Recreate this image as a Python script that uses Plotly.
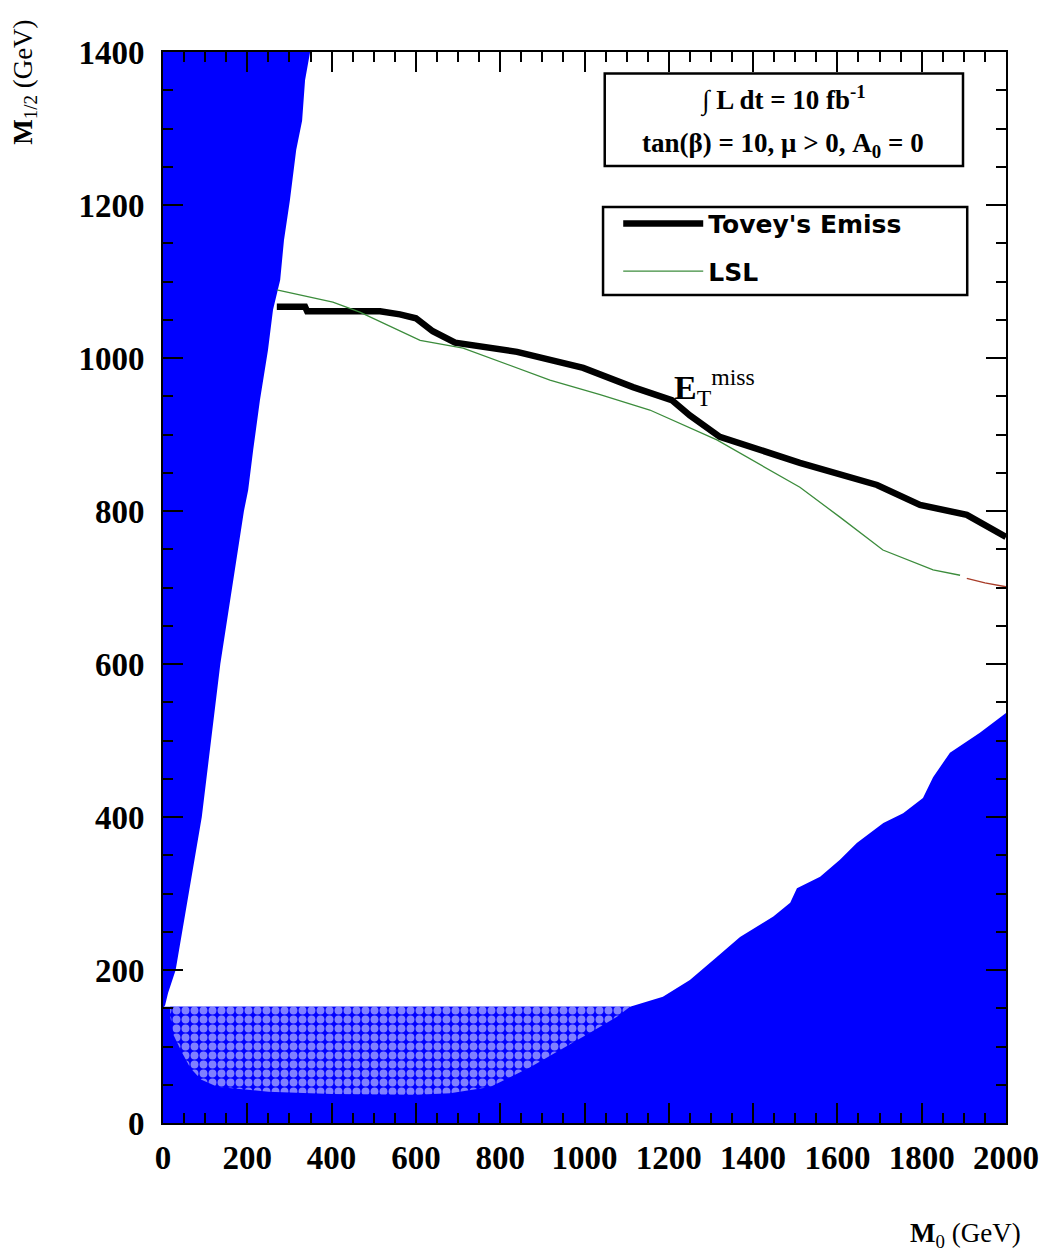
import plotly.graph_objects as go

# ---------------- data ----------------
# Left excluded wedge: right-hand boundary (M0 as a function of M1/2)
wedge_y = [150, 154, 170, 200, 400, 600, 800, 827, 880, 945, 1010, 1063, 1102, 1154, 1206, 1272, 1310, 1363, 1400]
wedge_x = [0, 5, 12, 30, 92, 136, 192, 202, 214, 230, 249, 261, 278, 287, 301, 316, 330, 337, 349]

# Bottom excluded region: upper boundary from right edge back to the hatched area
bottom_x = [2000, 1938, 1867, 1827, 1803, 1756, 1709, 1646, 1606, 1559, 1504, 1488, 1448, 1369, 1314, 1250, 1186, 1108, 0]
bottom_y = [536, 510, 484, 452, 425, 405, 392, 366, 344, 322, 307, 288, 270, 243, 217, 187, 165, 152, 152]

# Checkered (hatched) region: lower boundary
check_low_x = [17, 25, 45, 65, 90, 130, 250, 400, 600, 681, 776, 871, 942, 1013, 1077, 1108]
check_low_y = [140, 115, 92, 72, 57, 47, 41, 38, 37, 39, 47, 73, 95, 118, 139, 152]
check_top_y = 152

# Tovey's Emiss reach curve
tovey_x = [270, 337, 342, 515, 562, 600, 640, 693, 840, 918, 997, 1115, 1207, 1250, 1321, 1511, 1694, 1796, 1907, 2000]
tovey_y = [1067, 1067, 1061, 1061, 1057, 1052, 1035, 1020, 1008, 997, 987, 962, 945, 925, 897, 863, 834, 808, 795, 766]

# LSL reach curve (green part, then short red-brown tail)
lsl_x = [270, 403, 467, 610, 712, 918, 1037, 1155, 1314, 1511, 1606, 1708, 1827, 1891]
lsl_y = [1089, 1073, 1060, 1023, 1013, 971, 952, 932, 893, 831, 792, 749, 723, 716]
lsl_tail_x = [1907, 1950, 2000]
lsl_tail_y = [712, 706, 701]

x_ticks = [0, 200, 400, 600, 800, 1000, 1200, 1400, 1600, 1800, 2000]
y_ticks = [0, 200, 400, 600, 800, 1000, 1200, 1400]

BLUE = "#0000ff"
SERIF = "Liberation Serif"

fig = go.Figure()

# left wedge
fig.add_trace(go.Scatter(
    x=[0] + wedge_x + [0], y=[wedge_y[0]] + wedge_y + [1400],
    fill="toself", fillcolor=BLUE, mode="lines", line=dict(width=0, color=BLUE),
    showlegend=False, hoverinfo="skip"))

# bottom region
fig.add_trace(go.Scatter(
    x=[0, 2000] + bottom_x, y=[0, 0] + bottom_y,
    fill="toself", fillcolor=BLUE, mode="lines", line=dict(width=0, color=BLUE),
    showlegend=False, hoverinfo="skip"))

# checkered region
fig.add_trace(go.Scatter(
    x=[check_low_x[0]] + check_low_x + [check_low_x[0]],
    y=[check_top_y] + check_low_y + [check_top_y],
    fill="toself", fillcolor=BLUE, mode="lines", line=dict(width=0, color=BLUE),
    fillpattern=dict(shape=".", bgcolor=BLUE, fgcolor="white", size=9, solidity=0.6),
    showlegend=False, hoverinfo="skip"))

# curves
fig.add_trace(go.Scatter(
    x=tovey_x, y=tovey_y, mode="lines", name="Tovey's Emiss",
    line=dict(color="black", width=6.5), legendgroup="a"))
fig.add_trace(go.Scatter(
    x=lsl_x, y=lsl_y, mode="lines", name="LSL",
    line=dict(color="#3c8c3c", width=1.3), legendgroup="b"))
fig.add_trace(go.Scatter(
    x=lsl_tail_x, y=lsl_tail_y, mode="lines", showlegend=False,
    line=dict(color="#a83c28", width=1.3), hoverinfo="skip"))

axis_common = dict(
    showgrid=False, zeroline=False, showline=True, linecolor="black", linewidth=2,
    mirror="ticks", ticks="inside", ticklen=20, tickwidth=2, tickcolor="black",
    tickfont=dict(family=SERIF, size=33, color="black", weight="bold"),
    minor=dict(ticks="inside", ticklen=10, tickwidth=2, tickcolor="black", dtick=50),
)

fig.update_xaxes(range=[0, 2000], tickvals=x_ticks, ticktext=[str(v) for v in x_ticks],
                 ticklabelstandoff=4, **axis_common)
fig.update_yaxes(range=[0, 1400], tickvals=y_ticks, ticktext=[str(v) for v in y_ticks],
                 ticklabelstandoff=10, **axis_common)

# info box
fig.add_shape(type="rect", xref="paper", yref="paper",
              x0=0.524, x1=0.949, y0=0.8936, y1=0.980,
              line=dict(color="black", width=2.5), fillcolor="white", layer="below")
# legend box
fig.add_shape(type="rect", xref="paper", yref="paper",
              x0=0.522, x1=0.954, y0=0.7731, y1=0.8553,
              line=dict(color="black", width=2.5), fillcolor="white", layer="below")

box_font = dict(family=SERIF, size=27, color="black", weight="bold")
annotations = [
    dict(text="∫ L dt = 10 fb<sup>-1</sup>", x=0.7355, y=0.956, xref="paper", yref="paper",
         xanchor="center", yanchor="middle", showarrow=False, font=box_font),
    dict(text="tan(β) = 10, μ > 0, A<sub>0</sub> = 0", x=0.7355, y=0.913, xref="paper", yref="paper",
         xanchor="center", yanchor="middle", showarrow=False, font=box_font),
    dict(text="<b>E</b><sub>T</sub><sup>miss</sup>", x=1208, y=962, xref="x", yref="y",
         xanchor="left", yanchor="middle", showarrow=False,
         font=dict(family=SERIF, size=34, color="black")),
    dict(text="<b>M</b><sub>1/2</sub> (GeV)", x=-0.164, y=0.972, xref="paper", yref="paper",
         textangle=-90, showarrow=False, xanchor="center", yanchor="middle",
         font=dict(family=SERIF, size=27, color="black")),
    dict(text="<b>M</b><sub>0</sub> (GeV)", x=0.952, y=-0.105, xref="paper", yref="paper",
         showarrow=False, xanchor="center", yanchor="middle",
         font=dict(family=SERIF, size=27, color="black")),
]

fig.update_layout(
    width=1045, height=1254,
    margin=dict(l=163, r=39, t=52, b=131, autoexpand=False),
    plot_bgcolor="white", paper_bgcolor="white",
    annotations=annotations,
    legend=dict(x=0.54, y=0.861, xanchor="left", yanchor="top",
                bgcolor="rgba(0,0,0,0)", borderwidth=0, itemwidth=80,
                tracegroupgap=12,
                font=dict(family="DejaVu Sans", size=25, color="black", weight="bold")),
)

fig.write_html("out.html")
